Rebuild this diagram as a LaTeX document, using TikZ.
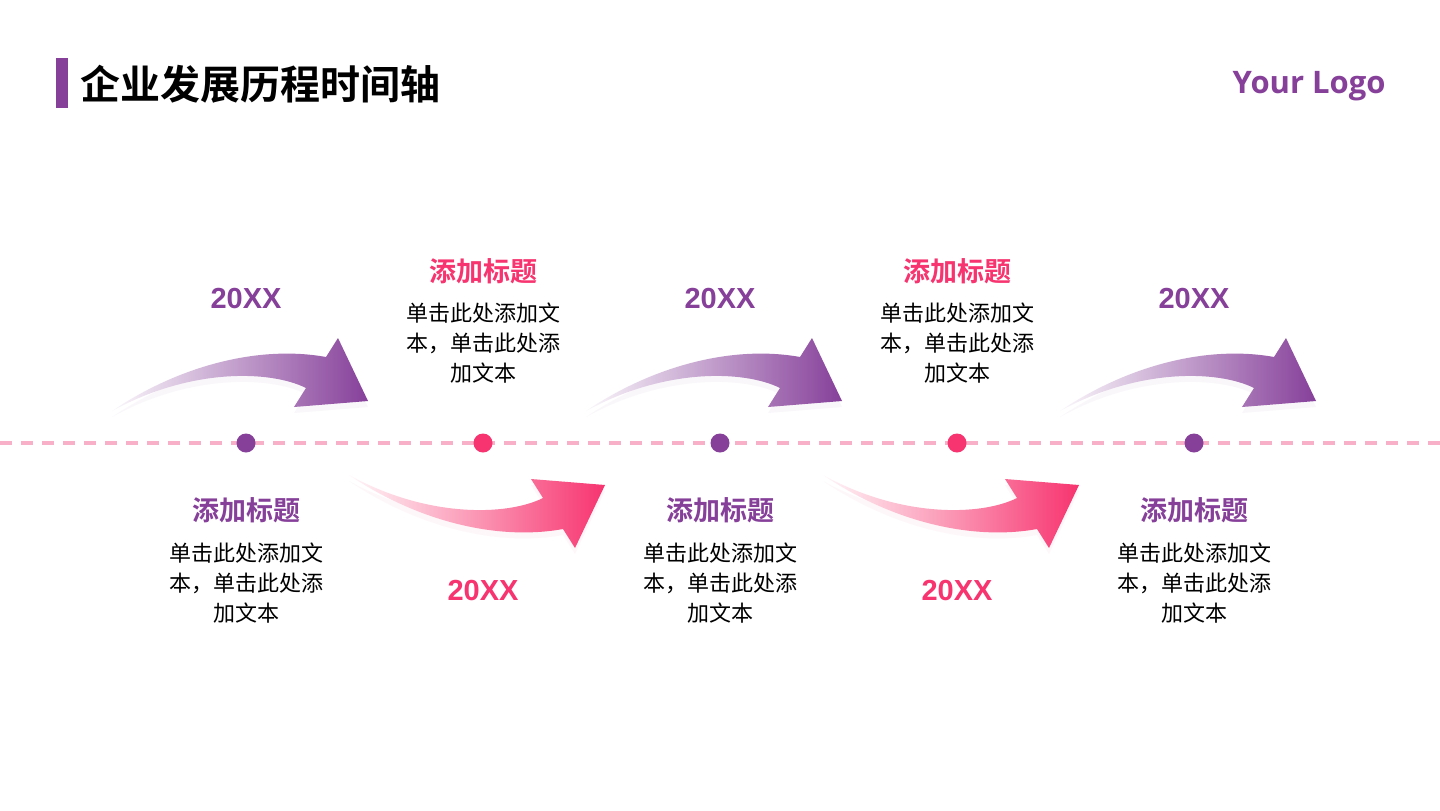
\documentclass[tikz,border=0pt]{standalone}
\usepackage{fontspec}
\setmainfont{Liberation Sans}
\newfontfamily\cjk{Noto Sans CJK SC}[BoldFont={Noto Sans CJK SC Bold}]
\newfontfamily\logofont{Open Sans}[BoldFont={Open Sans Bold}]
\usetikzlibrary{shapes.geometric}
\definecolor{purp}{HTML}{86409A}
\definecolor{pinkc}{HTML}{F7346F}
\definecolor{dashc}{HTML}{F7B0C8}
\newcommand\arrowshape{(112,411) .. controls (180,365) and (260,345) .. (326,357) -- (338,338) -- (368,401) -- (294,407) -- (306,388) .. controls (270,370) and (190,368) .. (112,411) -- cycle}
\begin{document}
\begin{tikzpicture}[x=0.5pt,y=-0.5pt,
  yearpurp/.style={font=\fontsize{14.5}{17}\selectfont\bfseries, text=purp},
  yearpink/.style={font=\fontsize{14.5}{17}\selectfont\bfseries, text=pinkc},
  headpurp/.style={font=\cjk\fontsize{13.5}{16}\selectfont\bfseries, text=purp},
  headpink/.style={font=\cjk\fontsize{13.5}{16}\selectfont\bfseries, text=pinkc},
  body/.style={font=\cjk\fontsize{11}{15}\selectfont, align=center, text=black, inner sep=0pt},
  dot/.style={circle, minimum size=9.5pt, inner sep=0pt},
  dashline/.style={draw=dashc, line width=2pt, dash pattern=on 6pt off 4.5pt}]
\useasboundingbox (0,0) rectangle (1440,810);
\fill[white] (0,0) rectangle (1440,810);

% header
\node[fill=purp, minimum width=6pt, minimum height=25pt, inner sep=0pt] (bar) at (62,83) {};
\node[anchor=west, inner sep=0pt, font=\cjk\fontsize{20}{24}\selectfont\bfseries] (title) at (80,84) {企业发展历程时间轴};
\node[anchor=east, inner sep=0pt, text=purp, font=\logofont\fontsize{15.5}{19}\selectfont\bfseries] (logo) at (1386,86) {Your Logo};

% purple arrows
\foreach \i in {0,474,948}{
  \begin{scope}[shift={(\i,0)}]
    \fill[purp, opacity=0.04] [shift={(0,6)}] \arrowshape;
    \shade[left color=purp!4, middle color=purp!40, right color=purp] \arrowshape;
  \end{scope}
}
% pink arrows
\foreach \i in {0,474}{
  \begin{scope}[shift={(237+\i,886)}, yscale=-1]
    \fill[pinkc, opacity=0.04] [shift={(0,-6)}] \arrowshape;
    \shade[left color=pinkc!4, middle color=pinkc!35, right color=pinkc] \arrowshape;
  \end{scope}
}

% axis
\coordinate (L) at (0,443);
\coordinate (R) at (1440,443);
\draw[dashline] (L) -- (R);
\node[dot, fill=purp]  (d1) at (246,443) {};
\node[dot, fill=pinkc] (d2) at (483,443) {};
\node[dot, fill=purp]  (d3) at (720,443) {};
\node[dot, fill=pinkc] (d4) at (957,443) {};
\node[dot, fill=purp]  (d5) at (1194,443) {};

% years
\node[yearpurp] (y1) at (246,299) {20XX};
\node[yearpurp] (y3) at (720,299) {20XX};
\node[yearpurp] (y5) at (1194,299) {20XX};
\node[yearpink] (y2) at (483,591) {20XX};
\node[yearpink] (y4) at (957,591) {20XX};

% titles
\node[headpink] (h2) at (483,271) {添加标题};
\node[headpink] (h4) at (957,271) {添加标题};
\node[headpurp] (h1) at (246,510) {添加标题};
\node[headpurp] (h3) at (720,510) {添加标题};
\node[headpurp] (h5) at (1194,510) {添加标题};

% bodies
\node[body] (b2) at (483,343) {单击此处添加文\\本，单击此处添\\加文本};
\node[body] (b4) at (957,343) {单击此处添加文\\本，单击此处添\\加文本};
\node[body] (b1) at (246,583) {单击此处添加文\\本，单击此处添\\加文本};
\node[body] (b3) at (720,583) {单击此处添加文\\本，单击此处添\\加文本};
\node[body] (b5) at (1194,583) {单击此处添加文\\本，单击此处添\\加文本};
\end{tikzpicture}
\end{document}
